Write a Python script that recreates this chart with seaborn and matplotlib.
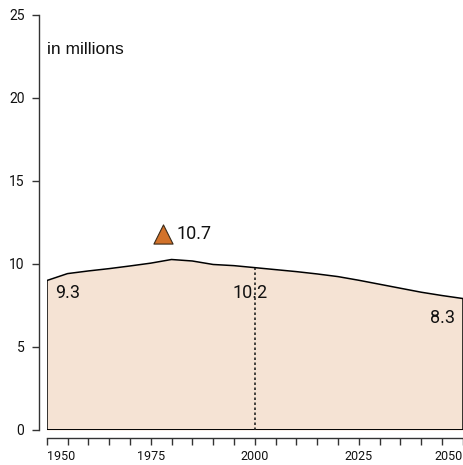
import matplotlib
matplotlib.use("Agg")
import matplotlib.pyplot as plt
import seaborn as sns
import pandas as pd

# population curve (millions)
years = [1950, 1955, 1960, 1965, 1970, 1975, 1980, 1985, 1990, 1995, 2000,
         2005, 2010, 2015, 2020, 2025, 2030, 2035, 2040, 2045, 2050]
values = [9.0, 9.42, 9.58, 9.72, 9.88, 10.05, 10.27, 10.18, 9.97, 9.9, 9.78,
          9.66, 9.54, 9.4, 9.24, 9.02, 8.78, 8.54, 8.3, 8.1, 7.92]

peak_year = [1978]
peak_value = [11.8]
peak_label = "10.7"

value_labels = ["9.3", "10.2", "8.3"]
label_years = [1952, 1999, 2048.2]
label_tops = [8.8, 8.8, 7.3]

x_ticks = list(range(1950, 2051, 5))
x_ticklabels = ["1950", "1975", "2000", "2025", "2050"]
y_ticks = [0, 5, 10, 15, 20, 25]

FILL = "#f5e3d4"
MARKER = "#d2722a"

sns.set_style("ticks")
plt.rcParams["font.family"] = ["Roboto", "DejaVu Sans"]

df = pd.DataFrame({"year": years, "value": values})

fig = plt.figure(figsize=(4.63, 4.65), dpi=100)
ax = fig.add_axes([0.1009, 0.0753, 0.8985, 0.8925])

ax.fill_between(df["year"], 0, df["value"], color=FILL, lw=0)
sns.lineplot(data=df, x="year", y="value", color="black", lw=1.1, ax=ax)
# closing edges of the area
ax.plot([years[0], years[0]], [0, values[0]], color="black", lw=1.1)
ax.plot([years[-1], years[-1]], [0, values[-1]], color="black", lw=1.1)
ax.plot([years[0], years[-1]], [0, 0], color="black", lw=1.4)

# dotted marker for 2000
ax.plot([2000, 2000], [0, values[years.index(2000)]], color="#222222",
        lw=1.2, ls=(0, (1.5, 1.5)))

sns.scatterplot(x=peak_year, y=peak_value, marker="^", s=190, color=MARKER,
                edgecolor="#3a2a1a", linewidth=0.8, ax=ax, zorder=5)
ax.text(peak_year[0] + 3.2, peak_value[0], peak_label, fontsize=13,
        va="center", ha="left", color="#111111")

has = ["left", "center", "right"]
for lab, yr, top, h in zip(value_labels, label_years, label_tops, has):
    ax.text(yr, top, lab, fontsize=13, va="top", ha=h, color="#111111")

ax.text(1950.0, 22.9, "in millions", fontsize=12.5, va="center", ha="left",
        family=["Liberation Sans", "DejaVu Sans"], color="#111111")

ax.set_xlim(1950, 2050)
ax.set_ylim(0, 25)
ax.set_xticks(x_ticks)
ax.set_xticklabels([str(y) if str(y) in x_ticklabels else "" for y in x_ticks])
ax.set_yticks(y_ticks)
ax.set_xlabel("")
ax.set_ylabel("")

sns.despine(ax=ax)
ax.spines["left"].set_position(("outward", 5.5))
ax.spines["bottom"].set_position(("outward", 5.8))
for s in ("left", "bottom"):
    ax.spines[s].set_linewidth(1.0)
    ax.spines[s].set_color("#333333")
ax.tick_params(axis="both", direction="out", length=5, width=1.0,
               color="#333333", labelcolor="#111111")
ax.tick_params(axis="y", pad=5.5, labelsize=10)
ax.tick_params(axis="x", pad=3.5, labelsize=9)

for lab in ax.get_xticklabels():
    if lab.get_text() == "1950":
        lab.set_horizontalalignment("left")
    elif lab.get_text() == "2050":
        lab.set_horizontalalignment("right")

fig.savefig("out.png", dpi=100)
